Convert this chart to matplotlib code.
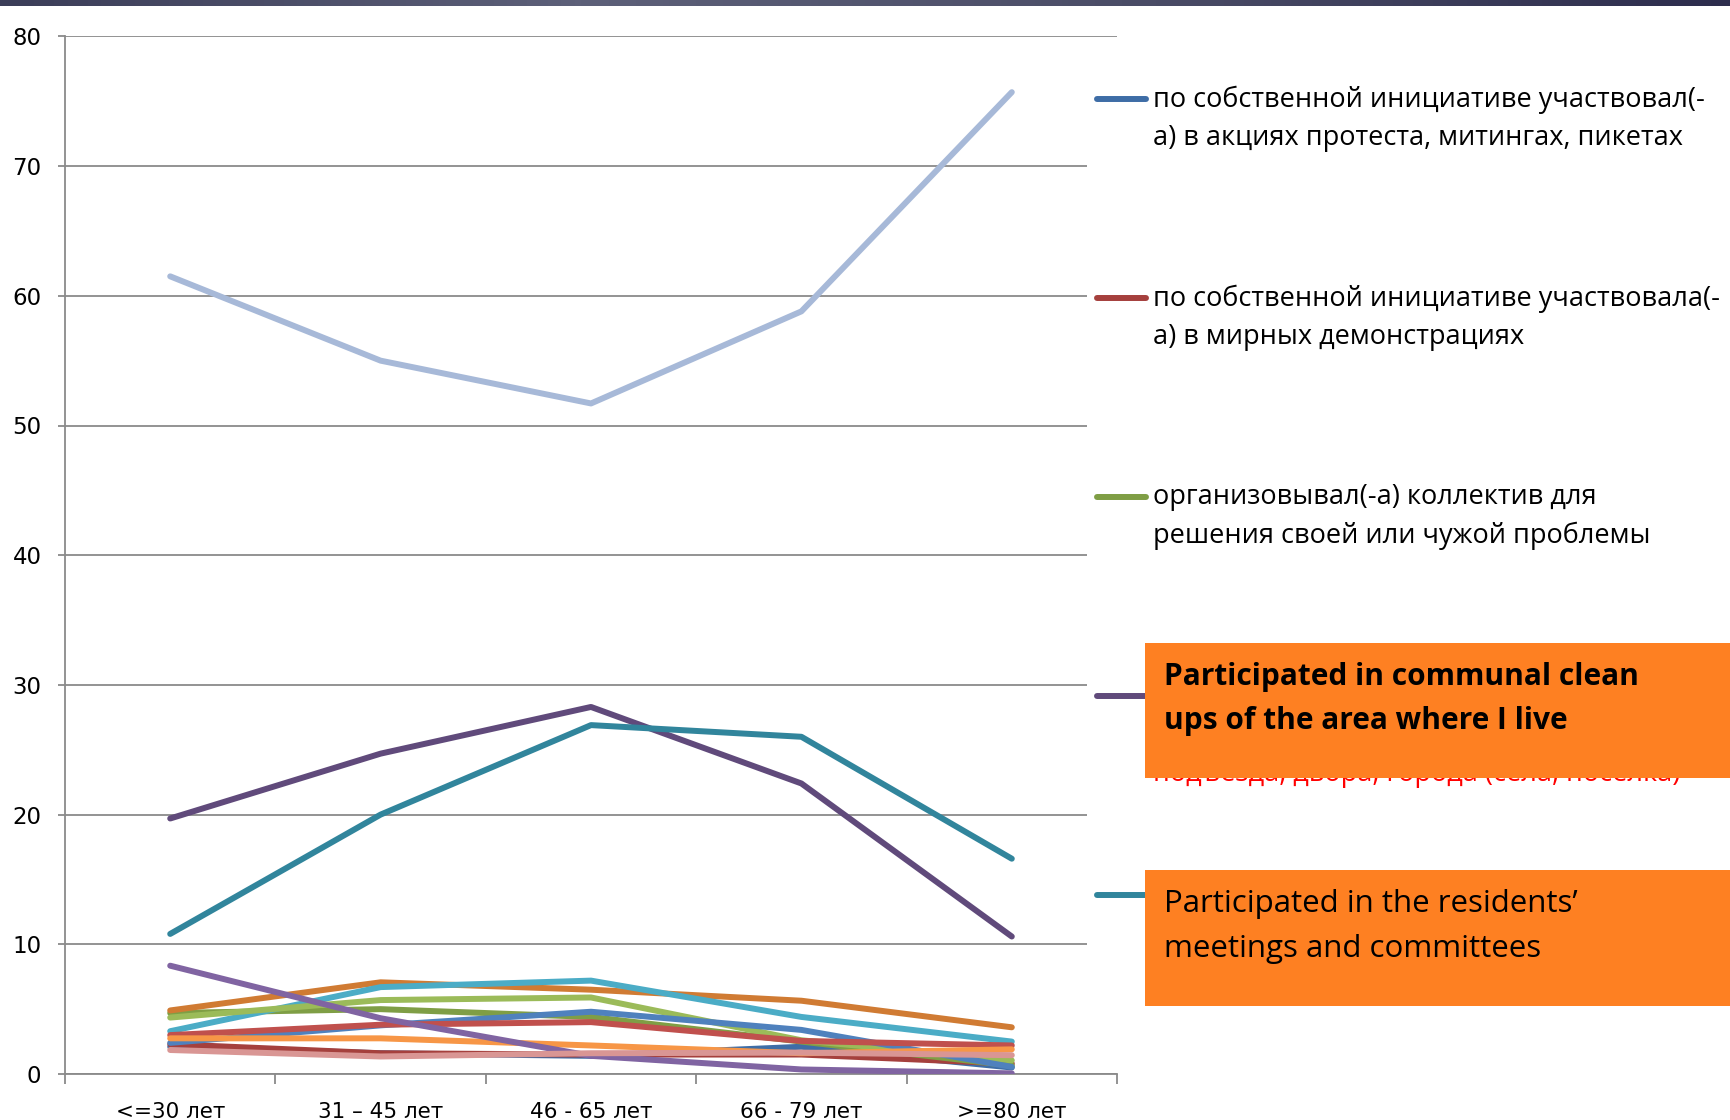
import numpy as np
import matplotlib.pyplot as plt
from matplotlib.lines import Line2D
from matplotlib.patches import Rectangle
from matplotlib.colors import LinearSegmentedColormap

W, H = 1731, 1120

# categories
age_groups = ['<=30 лет', '31 – 45 лет', '46 - 65 лет', '66 - 79 лет', '>=80 лет']

# series values (percent)
protest = [2.1, 1.6, 1.4, 2.1, 0.5]
demonstrations = [2.3, 1.6, 1.5, 1.5, 0.8]
organized = [4.7, 5.0, 4.4, 2.5, 0.65]
cleanups = [19.7, 24.7, 28.3, 22.4, 10.6]
residents_meetings = [10.8, 20.0, 26.9, 26.0, 16.6]
none_of_these = [61.5, 55.0, 51.7, 58.8, 75.7]
s7 = [4.9, 7.07, 6.5, 5.65, 3.6]
s8 = [3.3, 6.7, 7.2, 4.4, 2.5]
s9 = [4.35, 5.7, 5.9, 2.6, 1.05]
s10 = [2.4, 3.75, 4.8, 3.4, 0.55]
s11 = [3.0, 3.8, 4.0, 2.55, 2.2]
s12 = [2.75, 2.75, 2.2, 1.6, 1.9]
s13 = [8.35, 4.3, 1.4, 0.35, 0.05]
s14 = [1.85, 1.35, 1.6, 1.65, 1.45]

series = [protest, demonstrations, organized, cleanups, residents_meetings,
          none_of_these, s7, s8, s9, s10, s11, s12, s13, s14]
colors = ['#3e6da6', '#a5403d', '#7f9e45', '#604a7b', '#31859c',
          '#a7b9d8', '#d07b33', '#4bacc6', '#9bbb59', '#4f81bd',
          '#c0504d', '#f79646', '#8064a2', '#d99694']

legend_lines = [
    ['по собственной инициативе участвовал(-', 'а) в акциях протеста, митингах, пикетах'],
    ['по собственной инициативе участвовала(-', 'а) в мирных демонстрациях'],
    ['организовывал(-а) коллектив для', 'решения своей или чужой проблемы'],
    ['участвовал(-а) в субботниках по', 'благоустройству территории своего',
     'подъезда, двора, города (села, поселка)'],
    ['участвовал(-а) в собраниях жильцов,', 'домовых комитетах'],
]
box_texts = [
    (['Participated in communal clean', 'ups of the area where I live'], 'bold', 21.5),
    (['Participated in the residents’', 'meetings and committees'], 'normal', 22.5),
]

narrow = ['Liberation Sans Narrow', 'DejaVu Sans']
text_font = ['Open Sans', 'DejaVu Sans']

fig = plt.figure(figsize=(W / 100, H / 100), dpi=100)
fig.patch.set_facecolor('white')

def fx(px):
    return px / W

def fy(py):
    return 1 - py / H

# top decorative bar
bar = fig.add_axes([0, fy(6), 1, 6 / H])
cmap = LinearSegmentedColormap.from_list('bar', ['#3b3d58', '#5d6079', '#4a4c66', '#2d2d4d'])
bar.imshow(np.linspace(0, 1, 256)[None, :], aspect='auto', cmap=cmap)
bar.axis('off')

ax = fig.add_axes([fx(65), fy(1074), fx(1117 - 65), (1074 - 36.4) / H])
x = np.arange(len(age_groups))
for vals, c in zip(series, colors):
    ax.plot(x, vals, color=c, lw=4.3, solid_capstyle='round', solid_joinstyle='round', zorder=3)

ax.set_xlim(-0.5, 4.5)
ax.set_ylim(0, 80)
ax.set_yticks(range(0, 81, 10))
ax.yaxis.grid(True, color='#8a8a8a', lw=1.3)
ax.set_axisbelow(True)
for side in ['top', 'right']:
    ax.spines[side].set_visible(False)
for side in ['left', 'bottom']:
    ax.spines[side].set_color('#8a8a8a')
    ax.spines[side].set_linewidth(1.3)
ax.tick_params(axis='y', length=5, width=1.3, color='#8a8a8a', pad=12, labelsize=16.5)
ax.set_xticks(np.arange(-0.5, 5, 1))
ax.set_xticklabels([])
ax.set_xticks(x, minor=True)
ax.set_xticklabels(age_groups, minor=True)
ax.tick_params(axis='x', which='major', length=7, width=1.3, color='#8a8a8a')
ax.tick_params(axis='x', which='minor', length=0, pad=20, labelsize=15.5)
for lab in ax.get_yticklabels() + ax.get_xticklabels(minor=True):
    lab.set_family(narrow)

# legend area with white background
fig.add_artist(Rectangle((fx(1087), fy(1000)), fx(W - 1087), (1000 - 60) / H,
                         transform=fig.transFigure, facecolor='white', edgecolor='none', zorder=5))
for i, lines in enumerate(legend_lines):
    y0 = 99.4 + i * 199
    fig.add_artist(Line2D([fx(1097), fx(1146)], [fy(y0), fy(y0)], transform=fig.transFigure,
                          color=colors[i], lw=4.3, solid_capstyle='round', zorder=6))
    tcolor = 'red' if i == 3 else 'black'
    for j, line in enumerate(lines):
        fig.text(fx(1153), fy(y0 + j * 38.6), line, ha='left', va='center', fontsize=19.5,
                 family=text_font, color=tcolor, zorder=6)

# orange annotation boxes over legend entries 4 and 5
for (lines, weight, size), top, bottom in zip(box_texts, [642.5, 870], [778, 1006]):
    fig.add_artist(Rectangle((fx(1145), fy(bottom)), fx(W - 1145), (bottom - top) / H,
                             transform=fig.transFigure, facecolor='#fe8022', edgecolor='none', zorder=7))
    for j, line in enumerate(lines):
        fig.text(fx(1164), fy(top + 34 + j * 45), line, ha='left', va='center', fontsize=size,
                 family=text_font, weight=weight, color='black', zorder=8)

fig.savefig('out.png', dpi=100)
